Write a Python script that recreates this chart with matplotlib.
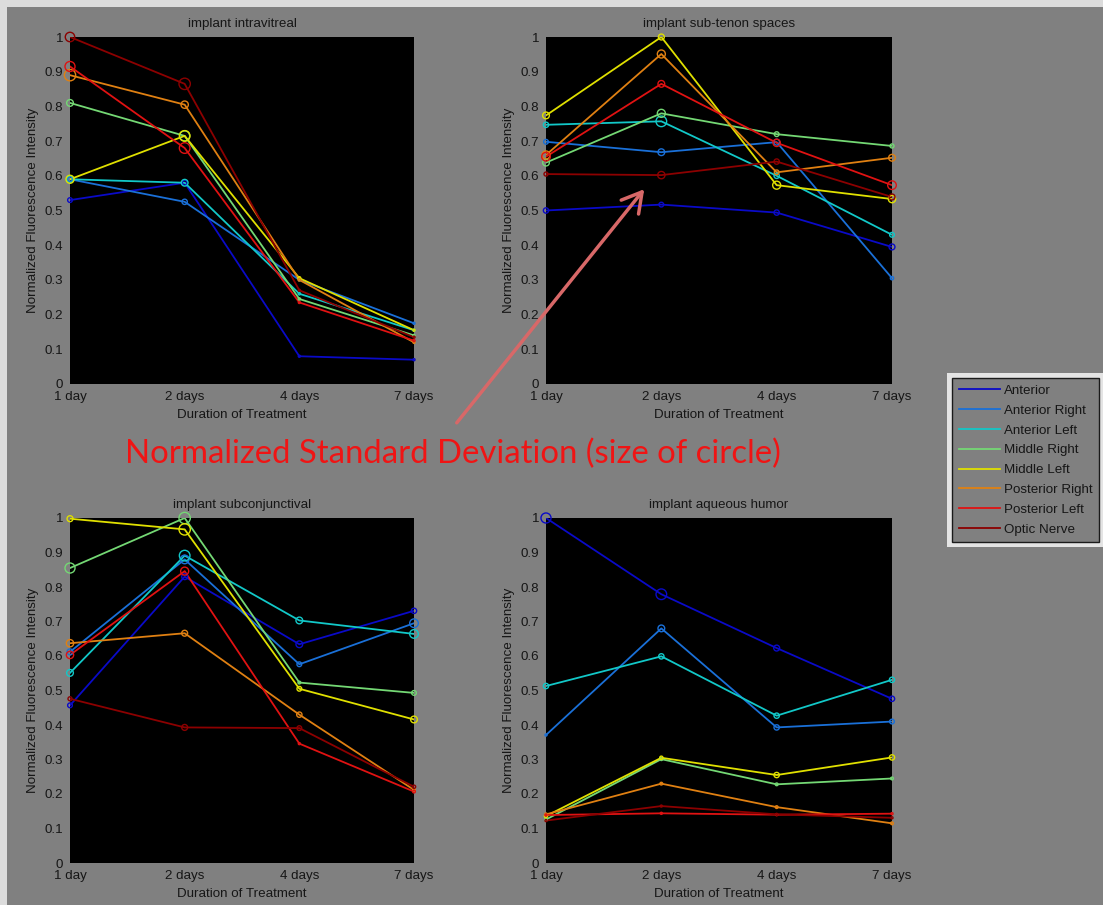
import matplotlib.pyplot as plt
from matplotlib.patches import Rectangle, FancyArrowPatch
import numpy as np

plt.rcParams['font.family'] = ['Liberation Sans', 'DejaVu Sans']

W, H = 1103, 905

days = ["1 day", "2 days", "4 days", "7 days"]
regions = ["Anterior", "Anterior Right", "Anterior Left", "Middle Right",
           "Middle Left", "Posterior Right", "Posterior Left", "Optic Nerve"]
colors = ["#0a0ac8", "#1a70d8", "#12c8c8", "#74d874",
          "#e0e000", "#e08012", "#e01212", "#8c0000"]

# normalized fluorescence intensity, one row per region
intravitreal = [
    [0.53, 0.58, 0.08, 0.07],
    [0.59, 0.525, 0.30, 0.175],
    [0.59, 0.58, 0.26, 0.155],
    [0.81, 0.715, 0.245, 0.14],
    [0.59, 0.715, 0.305, 0.155],
    [0.89, 0.805, 0.30, 0.12],
    [0.915, 0.68, 0.235, 0.125],
    [1.00, 0.865, 0.27, 0.135],
]
subtenon = [
    [0.50, 0.517, 0.494, 0.395],
    [0.698, 0.668, 0.697, 0.305],
    [0.747, 0.757, 0.60, 0.43],
    [0.638, 0.78, 0.72, 0.686],
    [0.774, 1.00, 0.573, 0.533],
    [0.66, 0.951, 0.61, 0.652],
    [0.655, 0.865, 0.695, 0.573],
    [0.605, 0.602, 0.641, 0.539],
]
subconjunctival = [
    [0.457, 0.83, 0.634, 0.731],
    [0.612, 0.88, 0.576, 0.695],
    [0.551, 0.891, 0.703, 0.664],
    [0.855, 1.00, 0.523, 0.493],
    [0.998, 0.967, 0.505, 0.416],
    [0.637, 0.666, 0.43, 0.212],
    [0.603, 0.846, 0.346, 0.207],
    [0.476, 0.393, 0.391, 0.221],
]
aqueous = [
    [1.00, 0.779, 0.623, 0.476],
    [0.371, 0.68, 0.393, 0.41],
    [0.513, 0.599, 0.427, 0.531],
    [0.126, 0.301, 0.228, 0.245],
    [0.136, 0.305, 0.255, 0.306],
    [0.141, 0.23, 0.162, 0.115],
    [0.139, 0.144, 0.14, 0.143],
    [0.123, 0.165, 0.141, 0.131],
]

# normalized standard deviation (drawn as circle size)
intravitreal_sd = [
    [0.40, 0.40, 0.15, 0.15],
    [0.40, 0.45, 0.15, 0.15],
    [0.57, 0.57, 0.20, 0.15],
    [0.57, 0.85, 0.20, 0.15],
    [0.68, 0.90, 0.25, 0.15],
    [0.96, 0.62, 0.20, 0.15],
    [0.85, 0.90, 0.15, 0.15],
    [0.80, 0.96, 0.15, 0.15],
]
subtenon_sd = [
    [0.45, 0.40, 0.45, 0.50],
    [0.40, 0.57, 0.50, 0.28],
    [0.45, 0.90, 0.45, 0.40],
    [0.57, 0.68, 0.40, 0.34],
    [0.57, 0.50, 0.68, 0.62],
    [0.68, 0.68, 0.40, 0.57],
    [0.73, 0.57, 0.62, 0.73],
    [0.34, 0.62, 0.45, 0.50],
]
subconjunctival_sd = [
    [0.40, 0.50, 0.57, 0.45],
    [0.50, 0.73, 0.40, 0.73],
    [0.57, 0.90, 0.57, 0.73],
    [0.85, 0.96, 0.23, 0.40],
    [0.50, 0.96, 0.40, 0.57],
    [0.62, 0.50, 0.45, 0.23],
    [0.62, 0.68, 0.17, 0.23],
    [0.34, 0.50, 0.40, 0.28],
]
aqueous_sd = [
    [0.85, 0.90, 0.50, 0.45],
    [0.17, 0.57, 0.45, 0.40],
    [0.45, 0.45, 0.45, 0.45],
    [0.23, 0.23, 0.23, 0.23],
    [0.28, 0.28, 0.45, 0.45],
    [0.23, 0.23, 0.23, 0.23],
    [0.17, 0.17, 0.17, 0.17],
    [0.17, 0.17, 0.17, 0.17],
]

panels = [
    ("implant intravitreal", intravitreal, intravitreal_sd, (70, 37, 344, 347)),
    ("implant sub-tenon spaces", subtenon, subtenon_sd, (546, 37, 346, 347)),
    ("implant subconjunctival", subconjunctival, subconjunctival_sd, (70, 518, 344, 345)),
    ("implant aqueous humor", aqueous, aqueous_sd, (546, 518, 346, 345)),
]

bg = "#808080"
txt = "#161616"
fs = 9.6

fig = plt.figure(figsize=(W / 100, H / 100), dpi=100, facecolor=bg)
# light frame along top and left edge
fig.add_artist(Rectangle((0, 1 - 7 / H), 1, 7 / H, transform=fig.transFigure,
                         facecolor="#dcdcdc", edgecolor="none", zorder=-1))
fig.add_artist(Rectangle((0, 0), 7 / W, 1, transform=fig.transFigure,
                         facecolor="#dcdcdc", edgecolor="none", zorder=-1))

x = np.arange(1, len(days) + 1)
handles = []
for title, vals, sds, (px, py, pw, ph) in panels:
    ax = fig.add_axes([px / W, 1 - (py + ph) / H, pw / W, ph / H])
    ax.set_facecolor("black")
    handles = []
    for name, c, v, s in zip(regions, colors, vals, sds):
        line, = ax.plot(x, v, color=c, lw=1.3, label=name)
        handles.append(line)
        ms = np.maximum(8.5 * np.array(s), 1.5)
        ax.scatter(x, v, s=ms ** 2, facecolors="none", edgecolors=c,
                   linewidths=1.0, zorder=3, clip_on=False)
    ax.set_xlim(1, 4)
    ax.set_ylim(0, 1)
    ax.set_xticks(x)
    ax.set_xticklabels(days)
    ax.set_yticks(np.arange(0, 1.01, 0.1))
    ax.set_yticklabels(["0"] + ["%.1f" % t for t in np.arange(0.1, 0.95, 0.1)] + ["1"])
    ax.tick_params(length=0, labelsize=fs, labelcolor=txt, pad=5)
    for sp in ax.spines.values():
        sp.set_visible(False)
    ax.set_title(title, fontsize=fs, color=txt, pad=7)
    ax.set_xlabel("Duration of Treatment", fontsize=fs, color=txt, labelpad=4)
    ax.set_ylabel("Normalized Fluorescence Intensity", fontsize=fs, color=txt, labelpad=4)

leg = fig.legend(handles, regions, loc="upper left",
                 bbox_to_anchor=(952 / W, 1 - 378 / H), bbox_transform=fig.transFigure,
                 fontsize=fs, frameon=True, fancybox=False, framealpha=1,
                 facecolor=bg, edgecolor="#1a1a1a", borderaxespad=0,
                 handlelength=3.1, handletextpad=0.3, labelspacing=0.56, borderpad=0.5)
for t in leg.get_texts():
    t.set_color(txt)
leg.get_frame().set_linewidth(1.0)

fig.canvas.draw()
bb = leg.get_window_extent()
pad = 5
fig.add_artist(Rectangle(((bb.x0 - pad) / W, (bb.y0 - pad) / H),
                         (bb.width + 2 * pad) / W, (bb.height + 2 * pad) / H,
                         transform=fig.transFigure, facecolor="#e4e4e4",
                         edgecolor="none", zorder=4))

fig.text(453 / W, 1 - 463 / H, "Normalized Standard Deviation (size of circle)",
         ha="center", va="baseline", fontsize=23.7, color="#f01414", family=["Lato", "DejaVu Sans"])

fig.add_artist(FancyArrowPatch((455 / W, 1 - 425 / H), (646 / W, 1 - 187 / H),
                               transform=fig.transFigure,
                               arrowstyle="->,head_length=0.7,head_width=0.4",
                               mutation_scale=20, lw=2.5, color="#d86868", zorder=6))

fig.savefig("out.png", dpi=100, facecolor=bg)
